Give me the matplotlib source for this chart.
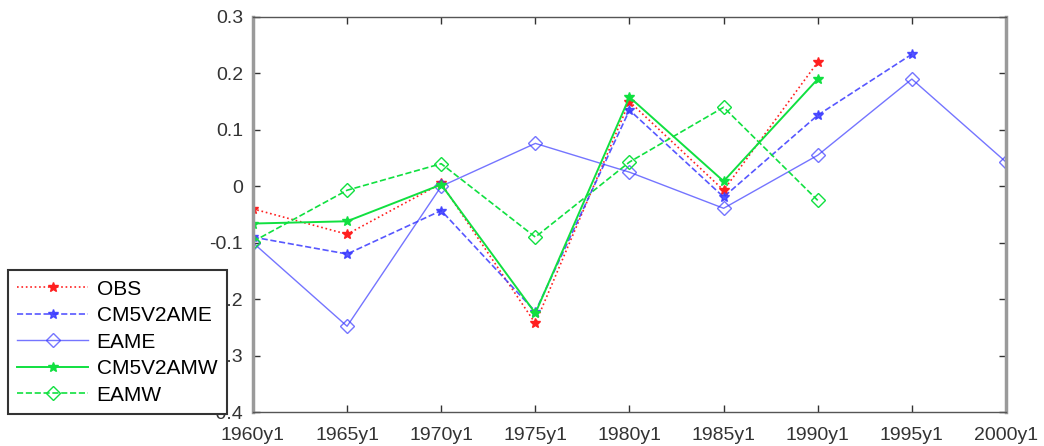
import matplotlib
matplotlib.use("Agg")
import matplotlib.pyplot as plt

plt.rcParams["font.family"] = ["Liberation Sans", "DejaVu Sans"]
plt.rcParams["axes.unicode_minus"] = False

# ------------------------------------------------------------
# Werte je Reihe (5-Jahres-Schritte ab 1960)
# ------------------------------------------------------------
years = [1960, 1965, 1970, 1975, 1980, 1985, 1990, 1995, 2000]
year_labels = ["1960y1", "1965y1", "1970y1", "1975y1", "1980y1",
               "1985y1", "1990y1", "1995y1", "2000y1"]

obs = [-0.04, -0.085, 0.005, -0.243, 0.15, -0.007, 0.22]
cm5v2ame = [-0.09, -0.12, -0.043, -0.222, 0.135, -0.019, 0.126, 0.234]
eame = [-0.1, -0.248, 0.0, 0.076, 0.025, -0.039, 0.055, 0.19, 0.043]
cm5v2amw = [-0.066, -0.062, 0.003, -0.225, 0.158, 0.009, 0.19]
eamw = [-0.098, -0.007, 0.04, -0.09, 0.043, 0.14, -0.025]

y_ticks = [-0.4, -0.3, -0.2, -0.1, 0, 0.1, 0.2, 0.3]
y_labels = ["-0.4", "-0.3", "-0.2", "-0.1", "0", "0.1", "0.2", "0.3"]

RED = "#ff2020"
BLUE = "#3a3aff"
GREEN = "#10e040"

fig = plt.figure(figsize=(10.44, 4.46), dpi=100)
ax = fig.add_axes([0.2423, 0.0762, 0.7213, 0.8857])

ax.plot(years[:len(obs)], obs, ":", color=RED, lw=1.2,
        marker="*", ms=7, label="OBS")
ax.plot(years[:len(cm5v2ame)], cm5v2ame, "--", color=BLUE, lw=1.2,
        alpha=0.85, marker="*", ms=7, label="CM5V2AME")
ax.plot(years[:len(eame)], eame, "-", color=BLUE, lw=1.0, alpha=0.7,
        marker="D", ms=7, mfc="none", label="EAME")
ax.plot(years[:len(cm5v2amw)], cm5v2amw, "-", color=GREEN, lw=1.4,
        marker="*", ms=7, label="CM5V2AMW")
ax.plot(years[:len(eamw)], eamw, "--", color=GREEN, lw=1.2,
        marker="D", ms=7, mfc="none", label="EAMW")

ax.set_xlim(1960, 2000)
ax.set_ylim(-0.4, 0.3)
ax.set_xticks(years)
ax.set_xticklabels(year_labels)
ax.set_yticks(y_ticks)
ax.set_yticklabels(y_labels)

ax.tick_params(axis="both", direction="in", top=True, right=True,
               labelsize=14, length=5, width=1, colors="#333333")
ax.tick_params(axis="x", pad=11)
ax.tick_params(axis="y", pad=7)
for side in ("top", "bottom"):
    ax.spines[side].set_color("#555555")
    ax.spines[side].set_linewidth(1.0)
for side in ("left", "right"):
    ax.spines[side].set_color("#9a9a9a")
    ax.spines[side].set_linewidth(2.5)

# Legende links unten, liegt ueber den y-Beschriftungen
leg = ax.legend(loc="lower left", bbox_to_anchor=(0.0077, 0.0717),
                bbox_transform=fig.transFigure, fontsize=15,
                handlelength=3.4, handletextpad=0.4, labelspacing=0.36,
                borderpad=0.45, borderaxespad=0, fancybox=False,
                framealpha=1, edgecolor="#333333")
leg.get_frame().set_linewidth(1.5)

fig.savefig("out.png", dpi=100)
